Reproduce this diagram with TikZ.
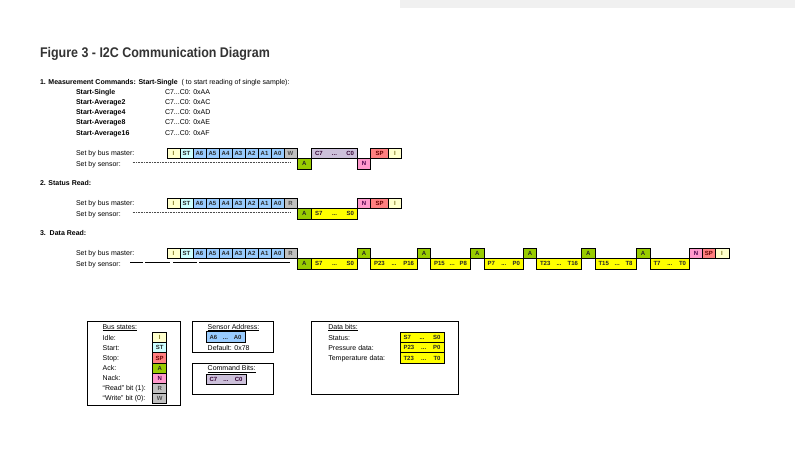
\documentclass[tikz,border=0pt]{standalone}
\usepackage{fontspec}
\setmainfont{Liberation Sans}

\definecolor{idlecol}{HTML}{FFFFCC}
\definecolor{startcol}{HTML}{CCFFFF}
\definecolor{addrcol}{HTML}{99CCFF}
\definecolor{rwcol}{HTML}{C0C0C0}
\definecolor{ackcol}{HTML}{99CC00}
\definecolor{nackcol}{HTML}{FF99CC}
\definecolor{stopcol}{HTML}{FF8080}
\definecolor{cmdcol}{HTML}{CCC0DA}
\definecolor{datacol}{HTML}{FFFF00}

\tikzset{
  smalltext/.style={font=\fontsize{7}{8}\selectfont},
  boldtext/.style={font=\bfseries\fontsize{7}{8}\selectfont},
  cellbox/.style={draw=black, line width=0.6pt, inner sep=0pt, font=\bfseries\fontsize{6}{7}\selectfont},
  idlecell/.style={cellbox, fill=idlecol, text=olive!80!black},
  startcell/.style={cellbox, fill=startcol, text=black!85},
  addrcell/.style={cellbox, fill=addrcol, text=black!85},
  rwcell/.style={cellbox, fill=rwcol, text=black!70},
  ackcell/.style={cellbox, fill=ackcol, text=black!85},
  nackcell/.style={cellbox, fill=nackcol, text=violet!60!black},
  stopcell/.style={cellbox, fill=stopcol, text=red!40!black},
  cmdcell/.style={cellbox, fill=cmdcol, text=violet!40!black},
  datacell/.style={cellbox, fill=datacol, text=black!85},
  thickcell/.style={line width=1pt},
  legendbox/.style={draw=black, line width=0.8pt},
  sensorline/.style={draw=black!70, densely dotted, line width=0.6pt}
}

% one bus cell: name, left x, right x, top y, style, label
\newcommand{\buscell}[6]{%
  \node[#5, minimum width={#3-#2}, minimum height=10.5] (#1) at ({(#2+#3)/2},{#4+5.25}) {#6};}
% a cell for a run of bits: name, left x, right x, top y, style, first bit, last bit
\newcommand{\rangecell}[7]{%
  \pgfmathsetmacro\cellw{#3-#2-7}%
  \node[#5, minimum width={#3-#2}, minimum height=10.5, text width=\cellw pt] (#1) at ({(#2+#3)/2},{#4+5.25}) {#6\hfill...\hfill#7};}
% idle, start and the seven address bits
\newcommand{\addrblock}[2]{%
  \buscell{#1i}{167}{180}{#2}{idlecell}{I}
  \buscell{#1st}{180}{193}{#2}{startcell}{ST}
  \foreach \b/\xa in {6/193,5/206,4/219,3/232,2/245,1/258,0/271}
    {\buscell{#1a\b}{\xa}{\xa+13}{#2}{addrcell}{A\b}}}

\begin{document}
\begin{tikzpicture}[x=1pt, y=-1pt, every node/.style={inner sep=0pt, outer sep=0pt}]
	\useasboundingbox (0,0) rectangle (795,459);
	
	% shadow at the top edge
	\fill[black!6] (400,0) rectangle (795,8);
	
	% Title
	\node[anchor=base west, font=\bfseries\fontsize{14}{16}\selectfont, text=black!80] (title) at (40,57) {\scalebox{0.89}[1]{Figure 3 - I2C Communication Diagram}};
	
	% 1. Measurement commands
	\node[anchor=base west, smalltext] (head1) at (40,84) {\textbf{1. Measurement Commands: Start-Single}\ \ ( to start reading of single sample):};
	\foreach \cmdname/\cmdcode [count=\k] in {Start-Single/AA, Start-Average2/AC, Start-Average4/AD, Start-Average8/AE, Start-Average16/AF} {
		\node[anchor=base west, boldtext] (cmd\k) at (76,{84+10.2*\k}) {\cmdname};
		\node[anchor=base west, smalltext] (code\k) at (165,{84+10.2*\k}) {C7...C0: 0x\cmdcode};
	}
	
	\node[anchor=base west, smalltext] (master1) at (76,155.5) {Set by bus master:};
	\node[anchor=base west, smalltext] (sensor1) at (76,166) {Set by sensor:};
	\coordinate (d1a) at (132.7,162.3);
	\coordinate (d1b) at (290,162.3);
	\draw[sensorline] (d1a) -- (d1b);
	
	\addrblock{m1}{148}
	\buscell{m1w}{284}{297}{148}{rwcell}{W}
	\buscell{s1ack}{297}{311.5}{158.5}{ackcell}{A}
	\rangecell{m1cmd}{311.5}{357.5}{148}{cmdcell}{C7}{C0}
	\buscell{s1nack}{357.5}{370.5}{158.5}{nackcell}{N}
	\buscell{m1sp}{370.5}{388.5}{148}{stopcell}{SP}
	\buscell{m1end}{388.5}{401.5}{148}{idlecell}{I}
	
	% 2. Status read
	\node[anchor=base west, boldtext] (head2) at (40,185.5) {2. Status Read:};
	\node[anchor=base west, smalltext] (master2) at (76,205.5) {Set by bus master:};
	\node[anchor=base west, smalltext] (sensor2) at (76,216) {Set by sensor:};
	\coordinate (d2a) at (132.7,212.4);
	\coordinate (d2b) at (290,212.4);
	\draw[sensorline] (d2a) -- (d2b);
	
	\addrblock{m2}{198}
	\buscell{m2r}{284}{297}{198}{rwcell}{R}
	\buscell{s2ack}{297}{311.5}{208.5}{ackcell}{A}
	\rangecell{s2stat}{311.5}{357.5}{208.5}{datacell}{S7}{S0}
	\buscell{m2nack}{357.5}{370.5}{198}{nackcell}{N}
	\buscell{m2sp}{370.5}{388.5}{198}{stopcell}{SP}
	\buscell{m2end}{388.5}{401.5}{198}{idlecell}{I}
	
	% 3. Data read
	\node[anchor=base west, boldtext] (head3) at (40,235.5) {3.\ \ Data Read:};
	\node[anchor=base west, smalltext] (master3) at (76,255.5) {Set by bus master:};
	\node[anchor=base west, smalltext] (sensor3) at (76,266) {Set by sensor:};
	\foreach \xa/\xb [count=\k] in {130/143, 145/170, 173/197, 199/290} {
		\coordinate (l\k a) at (\xa,262.7);
		\coordinate (l\k b) at (\xb,262.7);
		\draw[black, line width=0.7pt] (l\k a) -- (l\k b);
	}
	
	\addrblock{m3}{248}
	\buscell{m3r}{284}{297}{248}{rwcell}{R}
	\buscell{s3ack}{297}{311.5}{258.5}{ackcell}{A}
	\rangecell{s3stat}{311.5}{357.5}{258.5}{datacell}{S7}{S0}
	\buscell{m3ack1}{357.5}{370.5}{248}{ackcell}{A}
	\rangecell{s3p1}{370.5}{417.5}{258.5}{datacell}{P23}{P16}
	\buscell{m3ack2}{417.5}{430.5}{248}{ackcell}{A}
	\rangecell{s3p2}{430.5}{470.5}{258.5}{datacell}{P15}{P8}
	\buscell{m3ack3}{470.5}{484}{248}{ackcell}{A}
	\rangecell{s3p3}{484}{523.5}{258.5}{datacell}{P7}{P0}
	\buscell{m3ack4}{523.5}{536.5}{248}{ackcell}{A}
	\rangecell{s3t1}{536.5}{581.5}{258.5}{datacell}{T23}{T16}
	\buscell{m3ack5}{581.5}{595}{248}{ackcell}{A}
	\rangecell{s3t2}{595}{636}{258.5}{datacell}{T15}{T8}
	\buscell{m3ack6}{636}{650}{248}{ackcell}{A}
	\rangecell{s3t3}{650}{689.5}{258.5}{datacell}{T7}{T0}
	\buscell{m3nack}{689.5}{702.5}{248}{nackcell}{N}
	\buscell{m3sp}{702.5}{715}{248}{stopcell}{SP}
	\buscell{m3end}{715}{729}{248}{idlecell}{I}
	
	% Legend: bus states
	\draw[legendbox] (87.5,321) rectangle (180,405);
	\node[anchor=base west, smalltext] (busstates) at (102.5,329.2) {\underline{Bus states:}};
	\foreach \lbl/\sty/\txt [count=\k from 0] in {Idle:/idlecell/I, Start:/startcell/ST, Stop:/stopcell/SP, Ack:/ackcell/A, Nack:/nackcell/N, ``Read'' bit (1):/rwcell/R, ``Write'' bit (0):/rwcell/W} {
		\node[anchor=base west, smalltext] (state\k) at (102.7,{340.2+10.1*\k}) {\lbl};
		\buscell{key\k}{152.7}{166.7}{332.5+10.1*\k}{\sty}{\txt}
	}
	
	% Legend: sensor address
	\draw[legendbox] (192.5,321) rectangle (273.5,352);
	\node[anchor=base west, smalltext] (addrhead) at (207.7,329.2) {\underline{Sensor Address:}};
	\rangecell{addrkey}{206}{245}{331.7}{addrcell, thickcell}{A6}{A0}
	\node[anchor=base west, smalltext] (addrdef) at (207.7,350.6) {Default: 0x78};
	
	% Legend: command bits
	\draw[legendbox] (192.5,363.5) rectangle (273.5,394);
	\node[anchor=base west, smalltext] (cmdhead) at (207.7,370.8) {\underline{Command Bits:}};
	\rangecell{cmdkey}{206}{246}{374}{cmdcell, thickcell}{C7}{C0}
	
	% Legend: data bits
	\draw[legendbox] (311.7,321) rectangle (458.3,394);
	\node[anchor=base west, smalltext] (datahead) at (328.3,329.2) {\underline{Data bits:}};
	\node[anchor=base west, smalltext] (statlbl) at (328.3,340.2) {Status:};
	\node[anchor=base west, smalltext] (preslbl) at (328.3,350.3) {Pressure data:};
	\node[anchor=base west, smalltext] (templbl) at (328.3,360.4) {Temperature data:};
	\rangecell{statkey}{400}{444}{332.3}{datacell, thickcell}{S7}{S0}
	\rangecell{preskey}{400}{444}{342.5}{datacell, thickcell}{P23}{P0}
	\rangecell{tempkey}{400}{444}{352.7}{datacell, thickcell}{T23}{T0}
	
\end{tikzpicture}
\end{document}
